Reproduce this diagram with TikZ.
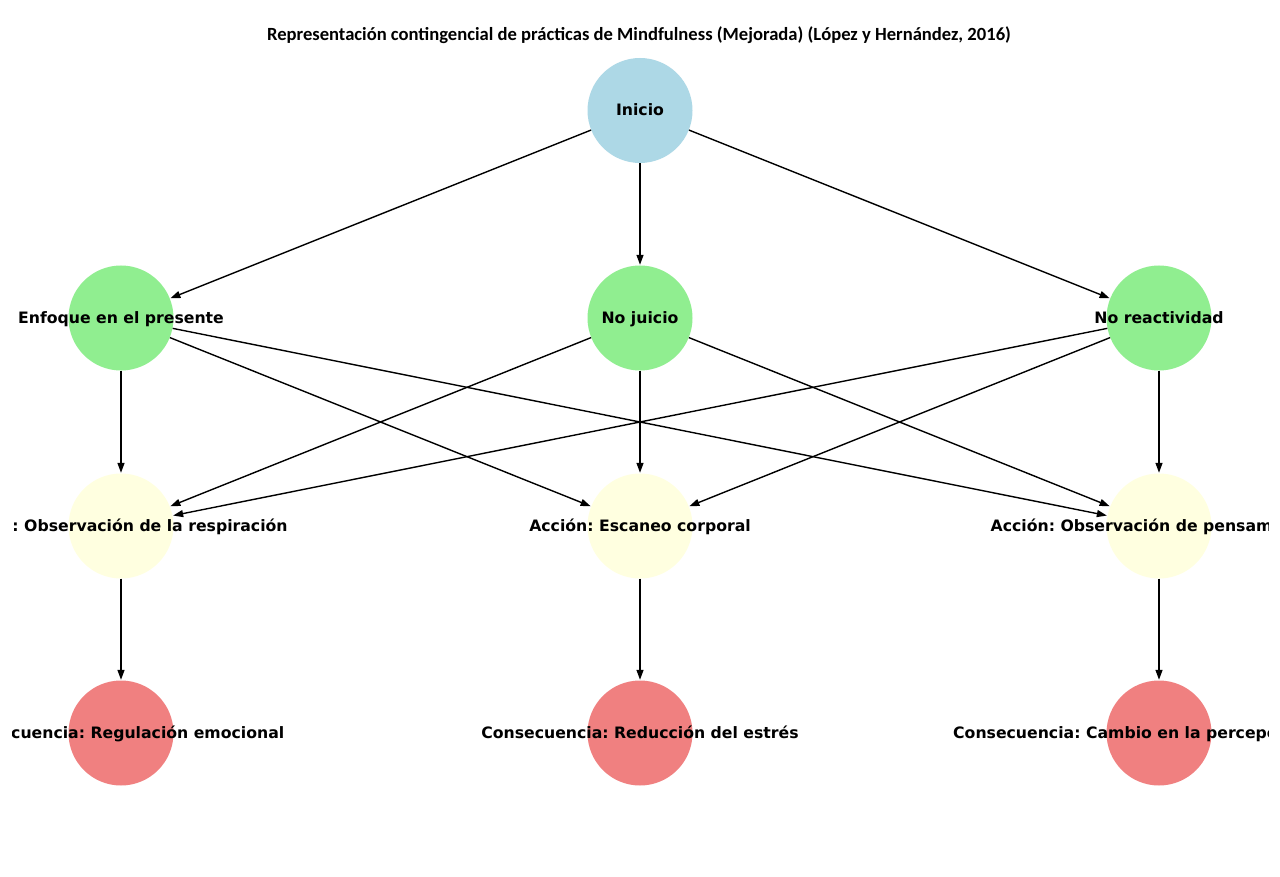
\documentclass[tikz,border=0pt]{standalone}
\usepackage{fontspec}
\setmainfont{DejaVu Sans}
\newfontfamily\titlefont{Carlito}
\usetikzlibrary{arrows.meta}
\definecolor{cblue}{HTML}{ADD8E6}
\definecolor{cgreen}{HTML}{90EE90}
\definecolor{cyellow}{HTML}{FFFFE0}
\definecolor{ccoral}{HTML}{F08080}
\frenchspacing
\tikzset{
  circ/.style={circle, minimum size=105pt, inner sep=0pt, draw=none},
  lbl/.style={font=\fontsize{15.7}{18}\selectfont\bfseries, inner sep=0pt, text height=14.5pt, text depth=3.5pt},
  edge/.style={line width=1.4pt, -{Triangle[length=10pt,width=7pt]}, shorten >=0.5pt}
}
\begin{document}
\begin{tikzpicture}[x=1pt,y=-1pt]
\useasboundingbox (0,0) rectangle (1280,877);
\fill[white] (0,0) rectangle (1280,877);
\node[font=\titlefont\fontsize{18.6}{21}\selectfont\bfseries] (title) at (639,35) {Representación contingencial de prácticas de Mindfulness (Mejorada) (López y Hernández, 2016)};
\begin{scope}
\clip (12,0) rectangle (1268,877);
% nodes
\node[circ, fill=cblue] (ini) at (640,110.5) {};
\node[circ, fill=cgreen] (enf) at (121,318) {};
\node[circ, fill=cgreen] (nj) at (640,318) {};
\node[circ, fill=cgreen] (nr) at (1159,318) {};
\node[circ, fill=cyellow] (a1) at (121,526) {};
\node[circ, fill=cyellow] (a2) at (640,526) {};
\node[circ, fill=cyellow] (a3) at (1159,526) {};
\node[circ, fill=ccoral] (c1) at (121,733) {};
\node[circ, fill=ccoral] (c2) at (640,733) {};
\node[circ, fill=ccoral] (c3) at (1159,733) {};
% edges
\foreach \t in {enf,nj,nr} \draw[edge] (ini) -- (\t);
\foreach \s in {enf,nj,nr} \foreach \t in {a1,a2,a3} \draw[edge] (\s) -- (\t);
\draw[edge] (a1) -- (c1);
\draw[edge] (a2) -- (c2);
\draw[edge] (a3) -- (c3);
% labels
\node[lbl] (l-ini) at (ini) {Inicio};
\node[lbl] (l-enf) at (enf) {Enfoque en el presente};
\node[lbl] (l-nj) at (nj) {No juicio};
\node[lbl] (l-nr) at (nr) {No reactividad};
\node[lbl] (l-a1) at (a1) {Acción: Observación de la respiración};
\node[lbl] (l-a2) at (a2) {Acción: Escaneo corporal};
\node[lbl] (l-a3) at (a3) {Acción: Observación de pensamientos};
\node[lbl] (l-c1) at (c1) {Consecuencia: Regulación emocional};
\node[lbl] (l-c2) at (c2) {Consecuencia: Reducción del estrés};
\node[lbl, anchor=west] (l-c3) at ([xshift=-206pt]c3.center) {Consecuencia: Cambio en la percepción};
\end{scope}
\end{tikzpicture}
\end{document}
